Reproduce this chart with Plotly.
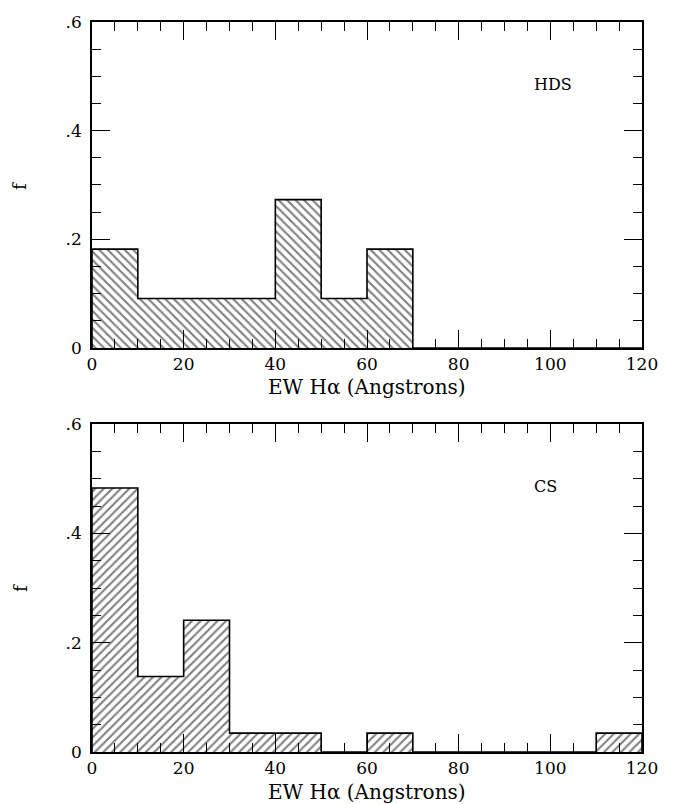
import plotly.graph_objects as go
from plotly.subplots import make_subplots

# Data
bin_edges = [0, 10, 20, 30, 40, 50, 60, 70, 80, 90, 100, 110, 120]
hds_f = [0.182, 0.091, 0.091, 0.091, 0.273, 0.091, 0.182, 0, 0, 0, 0, 0]
cs_f = [0.483, 0.138, 0.241, 0.0345, 0.0345, 0, 0.0345, 0, 0, 0, 0, 0.0345]
x_ticks = [0, 20, 40, 60, 80, 100, 120]
y_ticks = [0, 0.2, 0.4, 0.6]
y_ticktext = ["0", ".2", ".4", ".6"]
panel_labels = ["HDS", "CS"]
hatch_shapes = ["\\", "/"]
x_title = "EW Hα (Angstrons)"
y_title = "f"

FONT = "DejaVu Serif"
W, H = 673, 804
L, R, T, B = 92, 31, 13, 52
plot_h = H - T - B

top_dom = [(752 - 343) / plot_h, 1.0]
bot_dom = [0.0, (752 - 420) / plot_h]

fig = make_subplots(rows=2, cols=1)
fig.update_layout(
    yaxis=dict(domain=top_dom),
    yaxis2=dict(domain=bot_dom),
)

centers = [(bin_edges[i] + bin_edges[i + 1]) / 2 for i in range(len(bin_edges) - 1)]
widths = [bin_edges[i + 1] - bin_edges[i] for i in range(len(bin_edges) - 1)]

for row, (vals, shape) in enumerate(zip([hds_f, cs_f], hatch_shapes), start=1):
    fig.add_trace(go.Bar(
        x=centers, y=vals, width=widths,
        marker=dict(color="white", line=dict(width=0),
                    pattern=dict(shape=shape, fgcolor="black", bgcolor="white",
                                 size=6, solidity=0.35, fillmode="overlay")),
        showlegend=False, hoverinfo="skip"), row=row, col=1)
    # outline as step
    xs = [bin_edges[0]] + bin_edges
    ys = [0] + list(vals) + [0]
    fig.add_trace(go.Scatter(
        x=xs, y=ys, mode="lines", line=dict(color="black", width=1.6, shape="hv"),
        showlegend=False, hoverinfo="skip"), row=row, col=1)

axis_common = dict(showline=True, linecolor="black", linewidth=1.6, mirror="allticks",
                   ticks="inside", tickcolor="black", tickwidth=1.2, ticklen=18,
                   showgrid=False, zeroline=False, layer="above traces",
                   tickfont=dict(family=FONT, size=17, color="black"))

for row in (1, 2):
    fig.update_xaxes(range=[0, 120], tickvals=x_ticks,
                     minor=dict(dtick=5, tick0=0, ticks="inside", ticklen=9,
                                tickcolor="black", tickwidth=1.2, showgrid=False),
                     **axis_common, row=row, col=1)
    fig.update_yaxes(range=[0, 0.6], tickvals=y_ticks, ticktext=y_ticktext,
                     ticklabelstandoff=5,
                     minor=dict(dtick=0.05, tick0=0, ticks="inside", ticklen=9,
                                tickcolor="black", tickwidth=1.2, showgrid=False),
                     **axis_common, row=row, col=1)

annotations = []
# panel labels
for row, lab in zip((1, 2), panel_labels):
    xr = "x" if row == 1 else "x2"
    yr = "y" if row == 1 else "y2"
    annotations.append(dict(x=96, y=0.485, xref=xr, yref=yr, text=lab, showarrow=False,
                            xanchor="left", yanchor="middle",
                            font=dict(family=FONT, size=16, color="black")))
# x titles
for ypix in (383, 792):
    annotations.append(dict(x=0.5, y=(752 - ypix) / plot_h, xref="paper", yref="paper",
                            text=x_title, showarrow=False, xanchor="center", yanchor="middle",
                            font=dict(family=FONT, size=20, color="black")))
# y titles
for ypix in (179, 586):
    annotations.append(dict(x=(20 - L) / (W - L - R), y=(752 - ypix) / plot_h,
                            xref="paper", yref="paper", text=y_title, textangle=-90,
                            showarrow=False, xanchor="center", yanchor="middle",
                            font=dict(family=FONT, size=18, color="black")))

fig.update_layout(
    width=W, height=H, margin=dict(l=L, r=R, t=T, b=B),
    paper_bgcolor="white", plot_bgcolor="white",
    bargap=0, annotations=annotations,
    font=dict(family=FONT, size=17, color="black"),
)

fig.write_html("out.html")
